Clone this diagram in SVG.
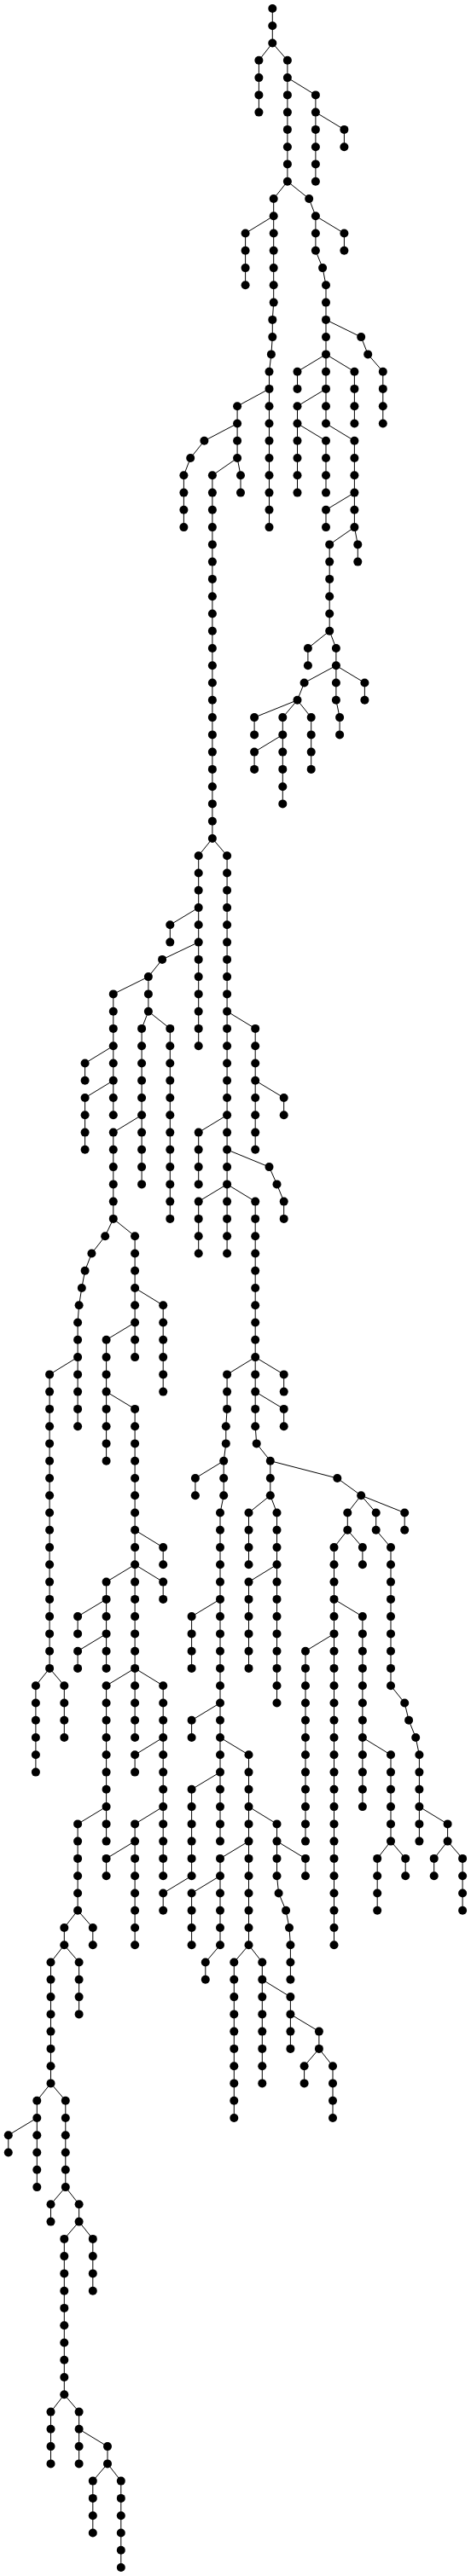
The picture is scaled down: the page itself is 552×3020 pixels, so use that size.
<svg xmlns="http://www.w3.org/2000/svg" width="552" height="3020" viewBox="0 0 552 3020">
<style>
.e path{fill:none;stroke:#000;stroke-width:1}
.n circle{fill:#000}
</style>
<rect width="552" height="3020" fill="#fff"/>
<g class="e" id="connectors">
<path d="M319.3 10V50.5"/>
<path d="M319.3 50.5L303.4 70.8V131.6"/>
<path d="M319.3 50.5L336.9 70.8V212.7"/>
<path d="M336.9 91.1L369.9 111.4V212.7"/>
<path d="M369.9 131.6L403.4 151.9V172.2"/>
<path d="M336.9 212.7L320.7 233V354.6L319.3 374.9V395.1L317.9 415.4L315.5 435.7V618.1"/>
<path d="M320.7 253.2L287.6 273.5V334.3"/>
<path d="M315.5 455.9L278.1 476.2V537"/>
<path d="M278.1 496.5L239.4 516.8L223.2 537L215.4 557.3V618.1"/>
<path d="M278.1 537L248.9 557.3V983"/>
<path d="M278.1 537L282 557.3V577.6"/>
<path d="M248.9 983L232.7 1003.2V1226.2"/>
<path d="M248.9 983L266.1 1003.2V1469.5"/>
<path d="M232.7 1064.1L199.3 1084.3V1104.6"/>
<path d="M232.7 1104.6L190.1 1124.9L173.9 1145.1V1185.7"/>
<path d="M173.9 1145.1L132.8 1165.4V1307.3"/>
<path d="M132.8 1226.2L99.6 1246.5V1266.8"/>
<path d="M132.8 1266.8L99.6 1287V1347.8"/>
<path d="M173.9 1185.7L166.1 1205.9V1388.4"/>
<path d="M173.9 1185.7L199.3 1205.9V1428.9"/>
<path d="M166.1 1307.3L132.8 1327.6V1428.9"/>
<path d="M132.8 1428.9L123.2 1449.2L107.4 1469.5L99.6 1489.7L95.8 1510L92.6 1530.3L91.1 1550.5V1672.2"/>
<path d="M132.8 1428.9L158.1 1449.2V1591.1"/>
<path d="M91.1 1591.1L58.1 1611.4V1955.9"/>
<path d="M58.1 1955.9L41.9 1976.2V2077.6"/>
<path d="M58.1 1955.9L75.3 1976.2V2037"/>
<path d="M158.1 1510L191.2 1530.3V1631.6"/>
<path d="M158.1 1550.5L124.6 1570.8V1712.7"/>
<path d="M124.6 1631.6L158.1 1651.9V2037"/>
<path d="M158.1 1793.8L191.2 1814.1V1834.3"/>
<path d="M158.1 1834.3L124.6 1854.6V1955.9"/>
<path d="M158.1 1834.3L191.2 1854.6V1874.9"/>
<path d="M124.6 1874.9L91.1 1895.1V1915.4"/>
<path d="M124.6 1915.4L91.1 1935.7V1955.9"/>
<path d="M158.1 1955.9L124.6 1976.2V2158.6"/>
<path d="M158.1 1955.9L191.2 1976.2V2199.2"/>
<path d="M124.6 2118.1L91.1 2138.4V2239.7"/>
<path d="M91.1 2239.7L75.3 2260V2280.3"/>
<path d="M91.1 2239.7L108.8 2260V2280.3"/>
<path d="M75.3 2280.3L59.5 2300.5V2442.4"/>
<path d="M75.3 2280.3L92.6 2300.5V2361.4"/>
<path d="M59.5 2442.4L43.3 2462.7V2564.1"/>
<path d="M43.3 2483L9.8 2503.2V2523.5"/>
<path d="M59.5 2442.4L76.8 2462.7V2564.1"/>
<path d="M76.8 2564.1L59.5 2584.3V2604.6"/>
<path d="M76.8 2564.1L92.6 2584.3V2604.6"/>
<path d="M92.6 2604.6L75.3 2624.9V2807.3"/>
<path d="M92.6 2604.6L108.8 2624.9V2685.7"/>
<path d="M75.3 2807.3L59.5 2827.6V2888.4"/>
<path d="M75.3 2807.3L92.6 2827.6V2888.4"/>
<path d="M92.6 2847.8L126 2868.1V2888.4"/>
<path d="M126 2888.4L108.8 2908.6V2969.5"/>
<path d="M126 2888.4L141.8 2908.6V3010"/>
<path d="M191.2 2037L158.1 2057.3V2077.6"/>
<path d="M191.2 2118.1L158.1 2138.4V2280.3"/>
<path d="M158.1 2158.6L124.6 2178.9V2199.2"/>
<path d="M336.9 212.7L362.2 233L369.9 253.2V293.8L378.1 314.1L382 334.3V496.5"/>
<path d="M369.9 253.2L403.4 273.5V293.8"/>
<path d="M382 374.9L423.2 395.1L431.2 415.4L448.8 435.7V496.5"/>
<path d="M382 415.4L348.5 435.7V455.9"/>
<path d="M382 415.4L415.4 435.7V496.5"/>
<path d="M382 455.9L348.5 476.2V577.6"/>
<path d="M348.5 496.5L382 516.8V577.6"/>
<path d="M382 496.5L415.4 516.8V618.1"/>
<path d="M415.4 577.6L382 597.8V618.1"/>
<path d="M415.4 618.1L386.2 638.4V739.7"/>
<path d="M415.4 618.1L419.3 638.4V658.6"/>
<path d="M386.2 739.7L360.9 760V780.3"/>
<path d="M386.2 739.7L393.9 760V780.3"/>
<path d="M393.9 780.3L356.6 800.5L348.5 820.8"/>
<path d="M393.9 780.3V820.8L398.1 841.1V861.4"/>
<path d="M393.9 780.3L427.4 800.5V820.8"/>
<path d="M348.5 820.8L298.1 841.1V861.4"/>
<path d="M348.5 820.8L331.3 841.1V942.4"/>
<path d="M348.5 820.8L364.7 841.1V901.9"/>
<path d="M331.3 861.4L298.1 881.6V901.9"/>
<path d="M266.1 1185.7L299.2 1205.9V1347.8"/>
<path d="M299.2 1266.8L332.7 1287V1307.3"/>
<path d="M266.1 1307.3L232.7 1327.6V1388.4"/>
<path d="M266.1 1347.8L315.5 1368.1L324.5 1388.4L332.7 1408.6V1428.9"/>
<path d="M266.1 1388.4L232.7 1408.6V1469.5"/>
<path d="M266.1 1388.4L299.2 1408.6V1672.2L300.7 1692.4L316.8 1712.7V1753.2"/>
<path d="M299.2 1591.1L266.1 1611.4V1651.9L264.8 1672.2V1692.4L262.2 1712.7"/>
<path d="M299.2 1591.1L332.7 1611.4V1631.6"/>
<path d="M299.2 1631.6L332.7 1651.9V1672.2"/>
<path d="M262.2 1712.7L228.9 1733V1753.2"/>
<path d="M262.2 1712.7V1753.2L258 1773.5V2158.6"/>
<path d="M258 1874.9L224.6 1895.1V1955.9"/>
<path d="M258 1996.5L224.6 2016.8V2037"/>
<path d="M258 2037L291.5 2057.3V2280.3"/>
<path d="M258 2077.6L224.6 2097.8V2199.2"/>
<path d="M224.6 2199.2L191.2 2219.5V2239.7"/>
<path d="M291.5 2118.1L324.5 2138.4V2199.2L326.6 2219.5L335.1 2239.7L339 2260L340.4 2280.3V2320.8"/>
<path d="M324.5 2158.6L358 2178.9V2199.2"/>
<path d="M291.5 2158.6L258 2178.9V2280.3"/>
<path d="M258 2199.2L224.6 2219.5V2280.3"/>
<path d="M258 2280.3L240.8 2300.5V2320.8"/>
<path d="M291.5 2280.3L274.3 2300.5V2483"/>
<path d="M291.5 2280.3L307.3 2300.5V2442.4"/>
<path d="M307.3 2320.8L340.4 2341.1V2401.9"/>
<path d="M340.4 2361.4L373.9 2381.6V2401.9"/>
<path d="M373.9 2401.9L356.6 2422.2V2442.4"/>
<path d="M373.9 2401.9L390 2422.2V2483"/>
<path d="M316.8 1712.7L395.3 1733L423.2 1753.2"/>
<path d="M423.2 1753.2L407.3 1773.5V1793.8"/>
<path d="M423.2 1753.2L440.7 1773.5V1793.8L458 1814.1V1976.2L474.2 1996.5L479.1 2016.8L487.2 2037L491.4 2057.3V2158.6"/>
<path d="M423.2 1753.2L474.2 1773.5V1793.8"/>
<path d="M407.3 1793.8L391.5 1814.1V2280.3"/>
<path d="M407.3 1793.8L424.9 1814.1V1834.3"/>
<path d="M391.5 1874.9L424.9 1895.1V2118.1"/>
<path d="M391.5 1915.4L358 1935.7V2158.6"/>
<path d="M424.9 2037L458 2057.3V2158.6"/>
<path d="M458 2158.6L442.2 2178.9V2239.7"/>
<path d="M458 2158.6L475.2 2178.9V2199.2"/>
<path d="M491.4 2118.1L524.6 2138.4V2158.6"/>
<path d="M524.6 2158.6L508.7 2178.9V2199.2"/>
<path d="M524.6 2158.6L542.1 2178.9V2239.7"/>
<path d="M316.8 1753.2L291.5 1773.5V1834.3"/>
<path d="M316.8 1753.2L324.5 1773.5V1996.5"/>
<path d="M324.5 1834.3L291.5 1854.6V1955.9"/>
</g>
<g class="n" id="nodes">
<g id="n0_302"><circle cx="319.3" cy="10" r="5"/></g>
<g id="n1_302"><circle cx="319.3" cy="30.3" r="5"/></g>
<g id="n2_302"><circle cx="319.3" cy="50.5" r="5"/></g>
<g id="n3_287"><circle cx="303.4" cy="70.8" r="5"/></g>
<g id="n4_287"><circle cx="303.4" cy="91.1" r="5"/></g>
<g id="n5_287"><circle cx="303.4" cy="111.4" r="5"/></g>
<g id="n6_287"><circle cx="303.4" cy="131.6" r="5"/></g>
<g id="n3_319"><circle cx="336.9" cy="70.8" r="5"/></g>
<g id="n4_319"><circle cx="336.9" cy="91.1" r="5"/></g>
<g id="n5_319"><circle cx="336.9" cy="111.4" r="5"/></g>
<g id="n6_319"><circle cx="336.9" cy="131.6" r="5"/></g>
<g id="n7_319"><circle cx="336.9" cy="151.9" r="5"/></g>
<g id="n8_319"><circle cx="336.9" cy="172.2" r="5"/></g>
<g id="n9_319"><circle cx="336.9" cy="192.4" r="5"/></g>
<g id="n10_319"><circle cx="336.9" cy="212.7" r="5"/></g>
<g id="n5_350"><circle cx="369.9" cy="111.4" r="5"/></g>
<g id="n6_350"><circle cx="369.9" cy="131.6" r="5"/></g>
<g id="n7_350"><circle cx="369.9" cy="151.9" r="5"/></g>
<g id="n8_350"><circle cx="369.9" cy="172.2" r="5"/></g>
<g id="n9_350"><circle cx="369.9" cy="192.4" r="5"/></g>
<g id="n10_350"><circle cx="369.9" cy="212.7" r="5"/></g>
<g id="n7_382"><circle cx="403.4" cy="151.9" r="5"/></g>
<g id="n8_382"><circle cx="403.4" cy="172.2" r="5"/></g>
<g id="n11_304"><circle cx="320.7" cy="233" r="5"/></g>
<g id="n12_304"><circle cx="320.7" cy="253.2" r="5"/></g>
<g id="n13_304"><circle cx="320.7" cy="273.5" r="5"/></g>
<g id="n14_304"><circle cx="320.7" cy="293.8" r="5"/></g>
<g id="n15_304"><circle cx="320.7" cy="314.1" r="5"/></g>
<g id="n16_304"><circle cx="320.7" cy="334.3" r="5"/></g>
<g id="n17_304"><circle cx="320.7" cy="354.6" r="5"/></g>
<g id="n18_302"><circle cx="319.3" cy="374.9" r="5"/></g>
<g id="n19_302"><circle cx="319.3" cy="395.1" r="5"/></g>
<g id="n20_301"><circle cx="317.9" cy="415.4" r="5"/></g>
<g id="n21_299"><circle cx="315.5" cy="435.7" r="5"/></g>
<g id="n22_299"><circle cx="315.5" cy="455.9" r="5"/></g>
<g id="n23_299"><circle cx="315.5" cy="476.2" r="5"/></g>
<g id="n24_299"><circle cx="315.5" cy="496.5" r="5"/></g>
<g id="n25_299"><circle cx="315.5" cy="516.8" r="5"/></g>
<g id="n26_299"><circle cx="315.5" cy="537" r="5"/></g>
<g id="n27_299"><circle cx="315.5" cy="557.3" r="5"/></g>
<g id="n28_299"><circle cx="315.5" cy="577.6" r="5"/></g>
<g id="n29_299"><circle cx="315.5" cy="597.8" r="5"/></g>
<g id="n30_299"><circle cx="315.5" cy="618.1" r="5"/></g>
<g id="n13_272"><circle cx="287.6" cy="273.5" r="5"/></g>
<g id="n14_272"><circle cx="287.6" cy="293.8" r="5"/></g>
<g id="n15_272"><circle cx="287.6" cy="314.1" r="5"/></g>
<g id="n16_272"><circle cx="287.6" cy="334.3" r="5"/></g>
<g id="n23_263"><circle cx="278.1" cy="476.2" r="5"/></g>
<g id="n24_263"><circle cx="278.1" cy="496.5" r="5"/></g>
<g id="n25_263"><circle cx="278.1" cy="516.8" r="5"/></g>
<g id="n26_263"><circle cx="278.1" cy="537" r="5"/></g>
<g id="n25_227"><circle cx="239.4" cy="516.8" r="5"/></g>
<g id="n26_211"><circle cx="223.2" cy="537" r="5"/></g>
<g id="n27_204"><circle cx="215.4" cy="557.3" r="5"/></g>
<g id="n28_204"><circle cx="215.4" cy="577.6" r="5"/></g>
<g id="n29_204"><circle cx="215.4" cy="597.8" r="5"/></g>
<g id="n30_204"><circle cx="215.4" cy="618.1" r="5"/></g>
<g id="n27_236"><circle cx="248.9" cy="557.3" r="5"/></g>
<g id="n28_236"><circle cx="248.9" cy="577.6" r="5"/></g>
<g id="n29_236"><circle cx="248.9" cy="597.8" r="5"/></g>
<g id="n30_236"><circle cx="248.9" cy="618.1" r="5"/></g>
<g id="n31_236"><circle cx="248.9" cy="638.4" r="5"/></g>
<g id="n32_236"><circle cx="248.9" cy="658.6" r="5"/></g>
<g id="n33_236"><circle cx="248.9" cy="678.9" r="5"/></g>
<g id="n34_236"><circle cx="248.9" cy="699.2" r="5"/></g>
<g id="n35_236"><circle cx="248.9" cy="719.5" r="5"/></g>
<g id="n36_236"><circle cx="248.9" cy="739.7" r="5"/></g>
<g id="n37_236"><circle cx="248.9" cy="760" r="5"/></g>
<g id="n38_236"><circle cx="248.9" cy="780.3" r="5"/></g>
<g id="n39_236"><circle cx="248.9" cy="800.5" r="5"/></g>
<g id="n40_236"><circle cx="248.9" cy="820.8" r="5"/></g>
<g id="n41_236"><circle cx="248.9" cy="841.1" r="5"/></g>
<g id="n42_236"><circle cx="248.9" cy="861.4" r="5"/></g>
<g id="n43_236"><circle cx="248.9" cy="881.6" r="5"/></g>
<g id="n44_236"><circle cx="248.9" cy="901.9" r="5"/></g>
<g id="n45_236"><circle cx="248.9" cy="922.2" r="5"/></g>
<g id="n46_236"><circle cx="248.9" cy="942.4" r="5"/></g>
<g id="n47_236"><circle cx="248.9" cy="962.7" r="5"/></g>
<g id="n48_236"><circle cx="248.9" cy="983" r="5"/></g>
<g id="n27_267"><circle cx="282" cy="557.3" r="5"/></g>
<g id="n28_267"><circle cx="282" cy="577.6" r="5"/></g>
<g id="n49_220"><circle cx="232.7" cy="1003.2" r="5"/></g>
<g id="n50_220"><circle cx="232.7" cy="1023.5" r="5"/></g>
<g id="n51_220"><circle cx="232.7" cy="1043.8" r="5"/></g>
<g id="n52_220"><circle cx="232.7" cy="1064.1" r="5"/></g>
<g id="n53_220"><circle cx="232.7" cy="1084.3" r="5"/></g>
<g id="n54_220"><circle cx="232.7" cy="1104.6" r="5"/></g>
<g id="n55_220"><circle cx="232.7" cy="1124.9" r="5"/></g>
<g id="n56_220"><circle cx="232.7" cy="1145.1" r="5"/></g>
<g id="n57_220"><circle cx="232.7" cy="1165.4" r="5"/></g>
<g id="n58_220"><circle cx="232.7" cy="1185.7" r="5"/></g>
<g id="n59_220"><circle cx="232.7" cy="1205.9" r="5"/></g>
<g id="n60_220"><circle cx="232.7" cy="1226.2" r="5"/></g>
<g id="n49_252"><circle cx="266.1" cy="1003.2" r="5"/></g>
<g id="n50_252"><circle cx="266.1" cy="1023.5" r="5"/></g>
<g id="n51_252"><circle cx="266.1" cy="1043.8" r="5"/></g>
<g id="n52_252"><circle cx="266.1" cy="1064.1" r="5"/></g>
<g id="n53_252"><circle cx="266.1" cy="1084.3" r="5"/></g>
<g id="n54_252"><circle cx="266.1" cy="1104.6" r="5"/></g>
<g id="n55_252"><circle cx="266.1" cy="1124.9" r="5"/></g>
<g id="n56_252"><circle cx="266.1" cy="1145.1" r="5"/></g>
<g id="n57_252"><circle cx="266.1" cy="1165.4" r="5"/></g>
<g id="n58_252"><circle cx="266.1" cy="1185.7" r="5"/></g>
<g id="n59_252"><circle cx="266.1" cy="1205.9" r="5"/></g>
<g id="n60_252"><circle cx="266.1" cy="1226.2" r="5"/></g>
<g id="n61_252"><circle cx="266.1" cy="1246.5" r="5"/></g>
<g id="n62_252"><circle cx="266.1" cy="1266.8" r="5"/></g>
<g id="n63_252"><circle cx="266.1" cy="1287" r="5"/></g>
<g id="n64_252"><circle cx="266.1" cy="1307.3" r="5"/></g>
<g id="n65_252"><circle cx="266.1" cy="1327.6" r="5"/></g>
<g id="n66_252"><circle cx="266.1" cy="1347.8" r="5"/></g>
<g id="n67_252"><circle cx="266.1" cy="1368.1" r="5"/></g>
<g id="n68_252"><circle cx="266.1" cy="1388.4" r="5"/></g>
<g id="n69_252"><circle cx="266.1" cy="1408.6" r="5"/></g>
<g id="n70_252"><circle cx="266.1" cy="1428.9" r="5"/></g>
<g id="n71_252"><circle cx="266.1" cy="1449.2" r="5"/></g>
<g id="n72_252"><circle cx="266.1" cy="1469.5" r="5"/></g>
<g id="n53_189"><circle cx="199.3" cy="1084.3" r="5"/></g>
<g id="n54_189"><circle cx="199.3" cy="1104.6" r="5"/></g>
<g id="n55_180"><circle cx="190.1" cy="1124.9" r="5"/></g>
<g id="n56_165"><circle cx="173.9" cy="1145.1" r="5"/></g>
<g id="n57_165"><circle cx="173.9" cy="1165.4" r="5"/></g>
<g id="n58_165"><circle cx="173.9" cy="1185.7" r="5"/></g>
<g id="n57_126"><circle cx="132.8" cy="1165.4" r="5"/></g>
<g id="n58_126"><circle cx="132.8" cy="1185.7" r="5"/></g>
<g id="n59_126"><circle cx="132.8" cy="1205.9" r="5"/></g>
<g id="n60_126"><circle cx="132.8" cy="1226.2" r="5"/></g>
<g id="n61_126"><circle cx="132.8" cy="1246.5" r="5"/></g>
<g id="n62_126"><circle cx="132.8" cy="1266.8" r="5"/></g>
<g id="n63_126"><circle cx="132.8" cy="1287" r="5"/></g>
<g id="n64_126"><circle cx="132.8" cy="1307.3" r="5"/></g>
<g id="n61_94"><circle cx="99.6" cy="1246.5" r="5"/></g>
<g id="n62_94"><circle cx="99.6" cy="1266.8" r="5"/></g>
<g id="n63_94"><circle cx="99.6" cy="1287" r="5"/></g>
<g id="n64_94"><circle cx="99.6" cy="1307.3" r="5"/></g>
<g id="n65_94"><circle cx="99.6" cy="1327.6" r="5"/></g>
<g id="n66_94"><circle cx="99.6" cy="1347.8" r="5"/></g>
<g id="n59_157"><circle cx="166.1" cy="1205.9" r="5"/></g>
<g id="n60_157"><circle cx="166.1" cy="1226.2" r="5"/></g>
<g id="n61_157"><circle cx="166.1" cy="1246.5" r="5"/></g>
<g id="n62_157"><circle cx="166.1" cy="1266.8" r="5"/></g>
<g id="n63_157"><circle cx="166.1" cy="1287" r="5"/></g>
<g id="n64_157"><circle cx="166.1" cy="1307.3" r="5"/></g>
<g id="n65_157"><circle cx="166.1" cy="1327.6" r="5"/></g>
<g id="n66_157"><circle cx="166.1" cy="1347.8" r="5"/></g>
<g id="n67_157"><circle cx="166.1" cy="1368.1" r="5"/></g>
<g id="n68_157"><circle cx="166.1" cy="1388.4" r="5"/></g>
<g id="n59_189"><circle cx="199.3" cy="1205.9" r="5"/></g>
<g id="n60_189"><circle cx="199.3" cy="1226.2" r="5"/></g>
<g id="n61_189"><circle cx="199.3" cy="1246.5" r="5"/></g>
<g id="n62_189"><circle cx="199.3" cy="1266.8" r="5"/></g>
<g id="n63_189"><circle cx="199.3" cy="1287" r="5"/></g>
<g id="n64_189"><circle cx="199.3" cy="1307.3" r="5"/></g>
<g id="n65_189"><circle cx="199.3" cy="1327.6" r="5"/></g>
<g id="n66_189"><circle cx="199.3" cy="1347.8" r="5"/></g>
<g id="n67_189"><circle cx="199.3" cy="1368.1" r="5"/></g>
<g id="n68_189"><circle cx="199.3" cy="1388.4" r="5"/></g>
<g id="n69_189"><circle cx="199.3" cy="1408.6" r="5"/></g>
<g id="n70_189"><circle cx="199.3" cy="1428.9" r="5"/></g>
<g id="n65_126"><circle cx="132.8" cy="1327.6" r="5"/></g>
<g id="n66_126"><circle cx="132.8" cy="1347.8" r="5"/></g>
<g id="n67_126"><circle cx="132.8" cy="1368.1" r="5"/></g>
<g id="n68_126"><circle cx="132.8" cy="1388.4" r="5"/></g>
<g id="n69_126"><circle cx="132.8" cy="1408.6" r="5"/></g>
<g id="n70_126"><circle cx="132.8" cy="1428.9" r="5"/></g>
<g id="n71_117"><circle cx="123.2" cy="1449.2" r="5"/></g>
<g id="n72_102"><circle cx="107.4" cy="1469.5" r="5"/></g>
<g id="n73_94"><circle cx="99.6" cy="1489.7" r="5"/></g>
<g id="n74_91"><circle cx="95.8" cy="1510" r="5"/></g>
<g id="n75_88"><circle cx="92.6" cy="1530.3" r="5"/></g>
<g id="n76_86"><circle cx="91.1" cy="1550.5" r="5"/></g>
<g id="n77_86"><circle cx="91.1" cy="1570.8" r="5"/></g>
<g id="n78_86"><circle cx="91.1" cy="1591.1" r="5"/></g>
<g id="n79_86"><circle cx="91.1" cy="1611.4" r="5"/></g>
<g id="n80_86"><circle cx="91.1" cy="1631.6" r="5"/></g>
<g id="n81_86"><circle cx="91.1" cy="1651.9" r="5"/></g>
<g id="n82_86"><circle cx="91.1" cy="1672.2" r="5"/></g>
<g id="n71_150"><circle cx="158.1" cy="1449.2" r="5"/></g>
<g id="n72_150"><circle cx="158.1" cy="1469.5" r="5"/></g>
<g id="n73_150"><circle cx="158.1" cy="1489.7" r="5"/></g>
<g id="n74_150"><circle cx="158.1" cy="1510" r="5"/></g>
<g id="n75_150"><circle cx="158.1" cy="1530.3" r="5"/></g>
<g id="n76_150"><circle cx="158.1" cy="1550.5" r="5"/></g>
<g id="n77_150"><circle cx="158.1" cy="1570.8" r="5"/></g>
<g id="n78_150"><circle cx="158.1" cy="1591.1" r="5"/></g>
<g id="n79_55"><circle cx="58.1" cy="1611.4" r="5"/></g>
<g id="n80_55"><circle cx="58.1" cy="1631.6" r="5"/></g>
<g id="n81_55"><circle cx="58.1" cy="1651.9" r="5"/></g>
<g id="n82_55"><circle cx="58.1" cy="1672.2" r="5"/></g>
<g id="n83_55"><circle cx="58.1" cy="1692.4" r="5"/></g>
<g id="n84_55"><circle cx="58.1" cy="1712.7" r="5"/></g>
<g id="n85_55"><circle cx="58.1" cy="1733" r="5"/></g>
<g id="n86_55"><circle cx="58.1" cy="1753.2" r="5"/></g>
<g id="n87_55"><circle cx="58.1" cy="1773.5" r="5"/></g>
<g id="n88_55"><circle cx="58.1" cy="1793.8" r="5"/></g>
<g id="n89_55"><circle cx="58.1" cy="1814.1" r="5"/></g>
<g id="n90_55"><circle cx="58.1" cy="1834.3" r="5"/></g>
<g id="n91_55"><circle cx="58.1" cy="1854.6" r="5"/></g>
<g id="n92_55"><circle cx="58.1" cy="1874.9" r="5"/></g>
<g id="n93_55"><circle cx="58.1" cy="1895.1" r="5"/></g>
<g id="n94_55"><circle cx="58.1" cy="1915.4" r="5"/></g>
<g id="n95_55"><circle cx="58.1" cy="1935.7" r="5"/></g>
<g id="n96_55"><circle cx="58.1" cy="1955.9" r="5"/></g>
<g id="n97_40"><circle cx="41.9" cy="1976.2" r="5"/></g>
<g id="n98_40"><circle cx="41.9" cy="1996.5" r="5"/></g>
<g id="n99_40"><circle cx="41.9" cy="2016.8" r="5"/></g>
<g id="n100_40"><circle cx="41.9" cy="2037" r="5"/></g>
<g id="n101_40"><circle cx="41.9" cy="2057.3" r="5"/></g>
<g id="n102_40"><circle cx="41.9" cy="2077.6" r="5"/></g>
<g id="n97_71"><circle cx="75.3" cy="1976.2" r="5"/></g>
<g id="n98_71"><circle cx="75.3" cy="1996.5" r="5"/></g>
<g id="n99_71"><circle cx="75.3" cy="2016.8" r="5"/></g>
<g id="n100_71"><circle cx="75.3" cy="2037" r="5"/></g>
<g id="n75_181"><circle cx="191.2" cy="1530.3" r="5"/></g>
<g id="n76_181"><circle cx="191.2" cy="1550.5" r="5"/></g>
<g id="n77_181"><circle cx="191.2" cy="1570.8" r="5"/></g>
<g id="n78_181"><circle cx="191.2" cy="1591.1" r="5"/></g>
<g id="n79_181"><circle cx="191.2" cy="1611.4" r="5"/></g>
<g id="n80_181"><circle cx="191.2" cy="1631.6" r="5"/></g>
<g id="n77_118"><circle cx="124.6" cy="1570.8" r="5"/></g>
<g id="n78_118"><circle cx="124.6" cy="1591.1" r="5"/></g>
<g id="n79_118"><circle cx="124.6" cy="1611.4" r="5"/></g>
<g id="n80_118"><circle cx="124.6" cy="1631.6" r="5"/></g>
<g id="n81_118"><circle cx="124.6" cy="1651.9" r="5"/></g>
<g id="n82_118"><circle cx="124.6" cy="1672.2" r="5"/></g>
<g id="n83_118"><circle cx="124.6" cy="1692.4" r="5"/></g>
<g id="n84_118"><circle cx="124.6" cy="1712.7" r="5"/></g>
<g id="n81_150"><circle cx="158.1" cy="1651.9" r="5"/></g>
<g id="n82_150"><circle cx="158.1" cy="1672.2" r="5"/></g>
<g id="n83_150"><circle cx="158.1" cy="1692.4" r="5"/></g>
<g id="n84_150"><circle cx="158.1" cy="1712.7" r="5"/></g>
<g id="n85_150"><circle cx="158.1" cy="1733" r="5"/></g>
<g id="n86_150"><circle cx="158.1" cy="1753.2" r="5"/></g>
<g id="n87_150"><circle cx="158.1" cy="1773.5" r="5"/></g>
<g id="n88_150"><circle cx="158.1" cy="1793.8" r="5"/></g>
<g id="n89_150"><circle cx="158.1" cy="1814.1" r="5"/></g>
<g id="n90_150"><circle cx="158.1" cy="1834.3" r="5"/></g>
<g id="n91_150"><circle cx="158.1" cy="1854.6" r="5"/></g>
<g id="n92_150"><circle cx="158.1" cy="1874.9" r="5"/></g>
<g id="n93_150"><circle cx="158.1" cy="1895.1" r="5"/></g>
<g id="n94_150"><circle cx="158.1" cy="1915.4" r="5"/></g>
<g id="n95_150"><circle cx="158.1" cy="1935.7" r="5"/></g>
<g id="n96_150"><circle cx="158.1" cy="1955.9" r="5"/></g>
<g id="n97_150"><circle cx="158.1" cy="1976.2" r="5"/></g>
<g id="n98_150"><circle cx="158.1" cy="1996.5" r="5"/></g>
<g id="n99_150"><circle cx="158.1" cy="2016.8" r="5"/></g>
<g id="n100_150"><circle cx="158.1" cy="2037" r="5"/></g>
<g id="n89_181"><circle cx="191.2" cy="1814.1" r="5"/></g>
<g id="n90_181"><circle cx="191.2" cy="1834.3" r="5"/></g>
<g id="n91_118"><circle cx="124.6" cy="1854.6" r="5"/></g>
<g id="n92_118"><circle cx="124.6" cy="1874.9" r="5"/></g>
<g id="n93_118"><circle cx="124.6" cy="1895.1" r="5"/></g>
<g id="n94_118"><circle cx="124.6" cy="1915.4" r="5"/></g>
<g id="n95_118"><circle cx="124.6" cy="1935.7" r="5"/></g>
<g id="n96_118"><circle cx="124.6" cy="1955.9" r="5"/></g>
<g id="n91_181"><circle cx="191.2" cy="1854.6" r="5"/></g>
<g id="n92_181"><circle cx="191.2" cy="1874.9" r="5"/></g>
<g id="n93_86"><circle cx="91.1" cy="1895.1" r="5"/></g>
<g id="n94_86"><circle cx="91.1" cy="1915.4" r="5"/></g>
<g id="n95_86"><circle cx="91.1" cy="1935.7" r="5"/></g>
<g id="n96_86"><circle cx="91.1" cy="1955.9" r="5"/></g>
<g id="n97_118"><circle cx="124.6" cy="1976.2" r="5"/></g>
<g id="n98_118"><circle cx="124.6" cy="1996.5" r="5"/></g>
<g id="n99_118"><circle cx="124.6" cy="2016.8" r="5"/></g>
<g id="n100_118"><circle cx="124.6" cy="2037" r="5"/></g>
<g id="n101_118"><circle cx="124.6" cy="2057.3" r="5"/></g>
<g id="n102_118"><circle cx="124.6" cy="2077.6" r="5"/></g>
<g id="n103_118"><circle cx="124.6" cy="2097.8" r="5"/></g>
<g id="n104_118"><circle cx="124.6" cy="2118.1" r="5"/></g>
<g id="n105_118"><circle cx="124.6" cy="2138.4" r="5"/></g>
<g id="n106_118"><circle cx="124.6" cy="2158.6" r="5"/></g>
<g id="n97_181"><circle cx="191.2" cy="1976.2" r="5"/></g>
<g id="n98_181"><circle cx="191.2" cy="1996.5" r="5"/></g>
<g id="n99_181"><circle cx="191.2" cy="2016.8" r="5"/></g>
<g id="n100_181"><circle cx="191.2" cy="2037" r="5"/></g>
<g id="n101_181"><circle cx="191.2" cy="2057.3" r="5"/></g>
<g id="n102_181"><circle cx="191.2" cy="2077.6" r="5"/></g>
<g id="n103_181"><circle cx="191.2" cy="2097.8" r="5"/></g>
<g id="n104_181"><circle cx="191.2" cy="2118.1" r="5"/></g>
<g id="n105_181"><circle cx="191.2" cy="2138.4" r="5"/></g>
<g id="n106_181"><circle cx="191.2" cy="2158.6" r="5"/></g>
<g id="n107_181"><circle cx="191.2" cy="2178.9" r="5"/></g>
<g id="n108_181"><circle cx="191.2" cy="2199.2" r="5"/></g>
<g id="n105_86"><circle cx="91.1" cy="2138.4" r="5"/></g>
<g id="n106_86"><circle cx="91.1" cy="2158.6" r="5"/></g>
<g id="n107_86"><circle cx="91.1" cy="2178.9" r="5"/></g>
<g id="n108_86"><circle cx="91.1" cy="2199.2" r="5"/></g>
<g id="n109_86"><circle cx="91.1" cy="2219.5" r="5"/></g>
<g id="n110_86"><circle cx="91.1" cy="2239.7" r="5"/></g>
<g id="n111_71"><circle cx="75.3" cy="2260" r="5"/></g>
<g id="n112_71"><circle cx="75.3" cy="2280.3" r="5"/></g>
<g id="n111_103"><circle cx="108.8" cy="2260" r="5"/></g>
<g id="n112_103"><circle cx="108.8" cy="2280.3" r="5"/></g>
<g id="n113_56"><circle cx="59.5" cy="2300.5" r="5"/></g>
<g id="n114_56"><circle cx="59.5" cy="2320.8" r="5"/></g>
<g id="n115_56"><circle cx="59.5" cy="2341.1" r="5"/></g>
<g id="n116_56"><circle cx="59.5" cy="2361.4" r="5"/></g>
<g id="n117_56"><circle cx="59.5" cy="2381.6" r="5"/></g>
<g id="n118_56"><circle cx="59.5" cy="2401.9" r="5"/></g>
<g id="n119_56"><circle cx="59.5" cy="2422.2" r="5"/></g>
<g id="n120_56"><circle cx="59.5" cy="2442.4" r="5"/></g>
<g id="n113_88"><circle cx="92.6" cy="2300.5" r="5"/></g>
<g id="n114_88"><circle cx="92.6" cy="2320.8" r="5"/></g>
<g id="n115_88"><circle cx="92.6" cy="2341.1" r="5"/></g>
<g id="n116_88"><circle cx="92.6" cy="2361.4" r="5"/></g>
<g id="n121_41"><circle cx="43.3" cy="2462.7" r="5"/></g>
<g id="n122_41"><circle cx="43.3" cy="2483" r="5"/></g>
<g id="n123_41"><circle cx="43.3" cy="2503.2" r="5"/></g>
<g id="n124_41"><circle cx="43.3" cy="2523.5" r="5"/></g>
<g id="n125_41"><circle cx="43.3" cy="2543.8" r="5"/></g>
<g id="n126_41"><circle cx="43.3" cy="2564.1" r="5"/></g>
<g id="n123_9"><circle cx="9.8" cy="2503.2" r="5"/></g>
<g id="n124_9"><circle cx="9.8" cy="2523.5" r="5"/></g>
<g id="n121_73"><circle cx="76.8" cy="2462.7" r="5"/></g>
<g id="n122_73"><circle cx="76.8" cy="2483" r="5"/></g>
<g id="n123_73"><circle cx="76.8" cy="2503.2" r="5"/></g>
<g id="n124_73"><circle cx="76.8" cy="2523.5" r="5"/></g>
<g id="n125_73"><circle cx="76.8" cy="2543.8" r="5"/></g>
<g id="n126_73"><circle cx="76.8" cy="2564.1" r="5"/></g>
<g id="n127_56"><circle cx="59.5" cy="2584.3" r="5"/></g>
<g id="n128_56"><circle cx="59.5" cy="2604.6" r="5"/></g>
<g id="n127_88"><circle cx="92.6" cy="2584.3" r="5"/></g>
<g id="n128_88"><circle cx="92.6" cy="2604.6" r="5"/></g>
<g id="n129_71"><circle cx="75.3" cy="2624.9" r="5"/></g>
<g id="n130_71"><circle cx="75.3" cy="2645.1" r="5"/></g>
<g id="n131_71"><circle cx="75.3" cy="2665.4" r="5"/></g>
<g id="n132_71"><circle cx="75.3" cy="2685.7" r="5"/></g>
<g id="n133_71"><circle cx="75.3" cy="2705.9" r="5"/></g>
<g id="n134_71"><circle cx="75.3" cy="2726.2" r="5"/></g>
<g id="n135_71"><circle cx="75.3" cy="2746.5" r="5"/></g>
<g id="n136_71"><circle cx="75.3" cy="2766.8" r="5"/></g>
<g id="n137_71"><circle cx="75.3" cy="2787" r="5"/></g>
<g id="n138_71"><circle cx="75.3" cy="2807.3" r="5"/></g>
<g id="n129_103"><circle cx="108.8" cy="2624.9" r="5"/></g>
<g id="n130_103"><circle cx="108.8" cy="2645.1" r="5"/></g>
<g id="n131_103"><circle cx="108.8" cy="2665.4" r="5"/></g>
<g id="n132_103"><circle cx="108.8" cy="2685.7" r="5"/></g>
<g id="n139_56"><circle cx="59.5" cy="2827.6" r="5"/></g>
<g id="n140_56"><circle cx="59.5" cy="2847.8" r="5"/></g>
<g id="n141_56"><circle cx="59.5" cy="2868.1" r="5"/></g>
<g id="n142_56"><circle cx="59.5" cy="2888.4" r="5"/></g>
<g id="n139_88"><circle cx="92.6" cy="2827.6" r="5"/></g>
<g id="n140_88"><circle cx="92.6" cy="2847.8" r="5"/></g>
<g id="n141_88"><circle cx="92.6" cy="2868.1" r="5"/></g>
<g id="n142_88"><circle cx="92.6" cy="2888.4" r="5"/></g>
<g id="n141_119"><circle cx="126" cy="2868.1" r="5"/></g>
<g id="n142_119"><circle cx="126" cy="2888.4" r="5"/></g>
<g id="n143_103"><circle cx="108.8" cy="2908.6" r="5"/></g>
<g id="n144_103"><circle cx="108.8" cy="2928.9" r="5"/></g>
<g id="n145_103"><circle cx="108.8" cy="2949.2" r="5"/></g>
<g id="n146_103"><circle cx="108.8" cy="2969.5" r="5"/></g>
<g id="n143_134"><circle cx="141.8" cy="2908.6" r="5"/></g>
<g id="n144_134"><circle cx="141.8" cy="2928.9" r="5"/></g>
<g id="n145_134"><circle cx="141.8" cy="2949.2" r="5"/></g>
<g id="n146_134"><circle cx="141.8" cy="2969.5" r="5"/></g>
<g id="n147_134"><circle cx="141.8" cy="2989.7" r="5"/></g>
<g id="n148_134"><circle cx="141.8" cy="3010" r="5"/></g>
<g id="n101_150"><circle cx="158.1" cy="2057.3" r="5"/></g>
<g id="n102_150"><circle cx="158.1" cy="2077.6" r="5"/></g>
<g id="n105_150"><circle cx="158.1" cy="2138.4" r="5"/></g>
<g id="n106_150"><circle cx="158.1" cy="2158.6" r="5"/></g>
<g id="n107_150"><circle cx="158.1" cy="2178.9" r="5"/></g>
<g id="n108_150"><circle cx="158.1" cy="2199.2" r="5"/></g>
<g id="n109_150"><circle cx="158.1" cy="2219.5" r="5"/></g>
<g id="n110_150"><circle cx="158.1" cy="2239.7" r="5"/></g>
<g id="n111_150"><circle cx="158.1" cy="2260" r="5"/></g>
<g id="n112_150"><circle cx="158.1" cy="2280.3" r="5"/></g>
<g id="n107_118"><circle cx="124.6" cy="2178.9" r="5"/></g>
<g id="n108_118"><circle cx="124.6" cy="2199.2" r="5"/></g>
<g id="n11_343"><circle cx="362.2" cy="233" r="5"/></g>
<g id="n12_350"><circle cx="369.9" cy="253.2" r="5"/></g>
<g id="n13_350"><circle cx="369.9" cy="273.5" r="5"/></g>
<g id="n14_350"><circle cx="369.9" cy="293.8" r="5"/></g>
<g id="n15_358"><circle cx="378.1" cy="314.1" r="5"/></g>
<g id="n16_362"><circle cx="382" cy="334.3" r="5"/></g>
<g id="n17_362"><circle cx="382" cy="354.6" r="5"/></g>
<g id="n18_362"><circle cx="382" cy="374.9" r="5"/></g>
<g id="n19_362"><circle cx="382" cy="395.1" r="5"/></g>
<g id="n20_362"><circle cx="382" cy="415.4" r="5"/></g>
<g id="n21_362"><circle cx="382" cy="435.7" r="5"/></g>
<g id="n22_362"><circle cx="382" cy="455.9" r="5"/></g>
<g id="n23_362"><circle cx="382" cy="476.2" r="5"/></g>
<g id="n24_362"><circle cx="382" cy="496.5" r="5"/></g>
<g id="n13_382"><circle cx="403.4" cy="273.5" r="5"/></g>
<g id="n14_382"><circle cx="403.4" cy="293.8" r="5"/></g>
<g id="n19_401"><circle cx="423.2" cy="395.1" r="5"/></g>
<g id="n20_408"><circle cx="431.2" cy="415.4" r="5"/></g>
<g id="n21_425"><circle cx="448.8" cy="435.7" r="5"/></g>
<g id="n22_425"><circle cx="448.8" cy="455.9" r="5"/></g>
<g id="n23_425"><circle cx="448.8" cy="476.2" r="5"/></g>
<g id="n24_425"><circle cx="448.8" cy="496.5" r="5"/></g>
<g id="n21_330"><circle cx="348.5" cy="435.7" r="5"/></g>
<g id="n22_330"><circle cx="348.5" cy="455.9" r="5"/></g>
<g id="n21_393"><circle cx="415.4" cy="435.7" r="5"/></g>
<g id="n22_393"><circle cx="415.4" cy="455.9" r="5"/></g>
<g id="n23_393"><circle cx="415.4" cy="476.2" r="5"/></g>
<g id="n24_393"><circle cx="415.4" cy="496.5" r="5"/></g>
<g id="n23_330"><circle cx="348.5" cy="476.2" r="5"/></g>
<g id="n24_330"><circle cx="348.5" cy="496.5" r="5"/></g>
<g id="n25_330"><circle cx="348.5" cy="516.8" r="5"/></g>
<g id="n26_330"><circle cx="348.5" cy="537" r="5"/></g>
<g id="n27_330"><circle cx="348.5" cy="557.3" r="5"/></g>
<g id="n28_330"><circle cx="348.5" cy="577.6" r="5"/></g>
<g id="n25_362"><circle cx="382" cy="516.8" r="5"/></g>
<g id="n26_362"><circle cx="382" cy="537" r="5"/></g>
<g id="n27_362"><circle cx="382" cy="557.3" r="5"/></g>
<g id="n28_362"><circle cx="382" cy="577.6" r="5"/></g>
<g id="n25_393"><circle cx="415.4" cy="516.8" r="5"/></g>
<g id="n26_393"><circle cx="415.4" cy="537" r="5"/></g>
<g id="n27_393"><circle cx="415.4" cy="557.3" r="5"/></g>
<g id="n28_393"><circle cx="415.4" cy="577.6" r="5"/></g>
<g id="n29_393"><circle cx="415.4" cy="597.8" r="5"/></g>
<g id="n30_393"><circle cx="415.4" cy="618.1" r="5"/></g>
<g id="n29_362"><circle cx="382" cy="597.8" r="5"/></g>
<g id="n30_362"><circle cx="382" cy="618.1" r="5"/></g>
<g id="n31_366"><circle cx="386.2" cy="638.4" r="5"/></g>
<g id="n32_366"><circle cx="386.2" cy="658.6" r="5"/></g>
<g id="n33_366"><circle cx="386.2" cy="678.9" r="5"/></g>
<g id="n34_366"><circle cx="386.2" cy="699.2" r="5"/></g>
<g id="n35_366"><circle cx="386.2" cy="719.5" r="5"/></g>
<g id="n36_366"><circle cx="386.2" cy="739.7" r="5"/></g>
<g id="n31_397"><circle cx="419.3" cy="638.4" r="5"/></g>
<g id="n32_397"><circle cx="419.3" cy="658.6" r="5"/></g>
<g id="n37_342"><circle cx="360.9" cy="760" r="5"/></g>
<g id="n38_342"><circle cx="360.9" cy="780.3" r="5"/></g>
<g id="n37_373"><circle cx="393.9" cy="760" r="5"/></g>
<g id="n38_373"><circle cx="393.9" cy="780.3" r="5"/></g>
<g id="n39_338"><circle cx="356.6" cy="800.5" r="5"/></g>
<g id="n40_330"><circle cx="348.5" cy="820.8" r="5"/></g>
<g id="n39_373"><circle cx="393.9" cy="800.5" r="5"/></g>
<g id="n40_373"><circle cx="393.9" cy="820.8" r="5"/></g>
<g id="n41_377"><circle cx="398.1" cy="841.1" r="5"/></g>
<g id="n42_377"><circle cx="398.1" cy="861.4" r="5"/></g>
<g id="n39_405"><circle cx="427.4" cy="800.5" r="5"/></g>
<g id="n40_405"><circle cx="427.4" cy="820.8" r="5"/></g>
<g id="n41_282"><circle cx="298.1" cy="841.1" r="5"/></g>
<g id="n42_282"><circle cx="298.1" cy="861.4" r="5"/></g>
<g id="n41_314"><circle cx="331.3" cy="841.1" r="5"/></g>
<g id="n42_314"><circle cx="331.3" cy="861.4" r="5"/></g>
<g id="n43_314"><circle cx="331.3" cy="881.6" r="5"/></g>
<g id="n44_314"><circle cx="331.3" cy="901.9" r="5"/></g>
<g id="n45_314"><circle cx="331.3" cy="922.2" r="5"/></g>
<g id="n46_314"><circle cx="331.3" cy="942.4" r="5"/></g>
<g id="n41_345"><circle cx="364.7" cy="841.1" r="5"/></g>
<g id="n42_345"><circle cx="364.7" cy="861.4" r="5"/></g>
<g id="n43_345"><circle cx="364.7" cy="881.6" r="5"/></g>
<g id="n44_345"><circle cx="364.7" cy="901.9" r="5"/></g>
<g id="n43_282"><circle cx="298.1" cy="881.6" r="5"/></g>
<g id="n44_282"><circle cx="298.1" cy="901.9" r="5"/></g>
<g id="n59_283"><circle cx="299.2" cy="1205.9" r="5"/></g>
<g id="n60_283"><circle cx="299.2" cy="1226.2" r="5"/></g>
<g id="n61_283"><circle cx="299.2" cy="1246.5" r="5"/></g>
<g id="n62_283"><circle cx="299.2" cy="1266.8" r="5"/></g>
<g id="n63_283"><circle cx="299.2" cy="1287" r="5"/></g>
<g id="n64_283"><circle cx="299.2" cy="1307.3" r="5"/></g>
<g id="n65_283"><circle cx="299.2" cy="1327.6" r="5"/></g>
<g id="n66_283"><circle cx="299.2" cy="1347.8" r="5"/></g>
<g id="n63_315"><circle cx="332.7" cy="1287" r="5"/></g>
<g id="n64_315"><circle cx="332.7" cy="1307.3" r="5"/></g>
<g id="n65_220"><circle cx="232.7" cy="1327.6" r="5"/></g>
<g id="n66_220"><circle cx="232.7" cy="1347.8" r="5"/></g>
<g id="n67_220"><circle cx="232.7" cy="1368.1" r="5"/></g>
<g id="n68_220"><circle cx="232.7" cy="1388.4" r="5"/></g>
<g id="n67_299"><circle cx="315.5" cy="1368.1" r="5"/></g>
<g id="n68_307"><circle cx="324.5" cy="1388.4" r="5"/></g>
<g id="n69_315"><circle cx="332.7" cy="1408.6" r="5"/></g>
<g id="n70_315"><circle cx="332.7" cy="1428.9" r="5"/></g>
<g id="n69_220"><circle cx="232.7" cy="1408.6" r="5"/></g>
<g id="n70_220"><circle cx="232.7" cy="1428.9" r="5"/></g>
<g id="n71_220"><circle cx="232.7" cy="1449.2" r="5"/></g>
<g id="n72_220"><circle cx="232.7" cy="1469.5" r="5"/></g>
<g id="n69_283"><circle cx="299.2" cy="1408.6" r="5"/></g>
<g id="n70_283"><circle cx="299.2" cy="1428.9" r="5"/></g>
<g id="n71_283"><circle cx="299.2" cy="1449.2" r="5"/></g>
<g id="n72_283"><circle cx="299.2" cy="1469.5" r="5"/></g>
<g id="n73_283"><circle cx="299.2" cy="1489.7" r="5"/></g>
<g id="n74_283"><circle cx="299.2" cy="1510" r="5"/></g>
<g id="n75_283"><circle cx="299.2" cy="1530.3" r="5"/></g>
<g id="n76_283"><circle cx="299.2" cy="1550.5" r="5"/></g>
<g id="n77_283"><circle cx="299.2" cy="1570.8" r="5"/></g>
<g id="n78_283"><circle cx="299.2" cy="1591.1" r="5"/></g>
<g id="n79_283"><circle cx="299.2" cy="1611.4" r="5"/></g>
<g id="n80_283"><circle cx="299.2" cy="1631.6" r="5"/></g>
<g id="n81_283"><circle cx="299.2" cy="1651.9" r="5"/></g>
<g id="n82_283"><circle cx="299.2" cy="1672.2" r="5"/></g>
<g id="n83_285"><circle cx="300.7" cy="1692.4" r="5"/></g>
<g id="n84_300"><circle cx="316.8" cy="1712.7" r="5"/></g>
<g id="n85_300"><circle cx="316.8" cy="1733" r="5"/></g>
<g id="n86_300"><circle cx="316.8" cy="1753.2" r="5"/></g>
<g id="n79_252"><circle cx="266.1" cy="1611.4" r="5"/></g>
<g id="n80_252"><circle cx="266.1" cy="1631.6" r="5"/></g>
<g id="n81_252"><circle cx="266.1" cy="1651.9" r="5"/></g>
<g id="n82_251"><circle cx="264.8" cy="1672.2" r="5"/></g>
<g id="n83_251"><circle cx="264.8" cy="1692.4" r="5"/></g>
<g id="n84_248"><circle cx="262.2" cy="1712.7" r="5"/></g>
<g id="n79_315"><circle cx="332.7" cy="1611.4" r="5"/></g>
<g id="n80_315"><circle cx="332.7" cy="1631.6" r="5"/></g>
<g id="n81_315"><circle cx="332.7" cy="1651.9" r="5"/></g>
<g id="n82_315"><circle cx="332.7" cy="1672.2" r="5"/></g>
<g id="n85_217"><circle cx="228.9" cy="1733" r="5"/></g>
<g id="n86_217"><circle cx="228.9" cy="1753.2" r="5"/></g>
<g id="n85_248"><circle cx="262.2" cy="1733" r="5"/></g>
<g id="n86_248"><circle cx="262.2" cy="1753.2" r="5"/></g>
<g id="n87_244"><circle cx="258" cy="1773.5" r="5"/></g>
<g id="n88_244"><circle cx="258" cy="1793.8" r="5"/></g>
<g id="n89_244"><circle cx="258" cy="1814.1" r="5"/></g>
<g id="n90_244"><circle cx="258" cy="1834.3" r="5"/></g>
<g id="n91_244"><circle cx="258" cy="1854.6" r="5"/></g>
<g id="n92_244"><circle cx="258" cy="1874.9" r="5"/></g>
<g id="n93_244"><circle cx="258" cy="1895.1" r="5"/></g>
<g id="n94_244"><circle cx="258" cy="1915.4" r="5"/></g>
<g id="n95_244"><circle cx="258" cy="1935.7" r="5"/></g>
<g id="n96_244"><circle cx="258" cy="1955.9" r="5"/></g>
<g id="n97_244"><circle cx="258" cy="1976.2" r="5"/></g>
<g id="n98_244"><circle cx="258" cy="1996.5" r="5"/></g>
<g id="n99_244"><circle cx="258" cy="2016.8" r="5"/></g>
<g id="n100_244"><circle cx="258" cy="2037" r="5"/></g>
<g id="n101_244"><circle cx="258" cy="2057.3" r="5"/></g>
<g id="n102_244"><circle cx="258" cy="2077.6" r="5"/></g>
<g id="n103_244"><circle cx="258" cy="2097.8" r="5"/></g>
<g id="n104_244"><circle cx="258" cy="2118.1" r="5"/></g>
<g id="n105_244"><circle cx="258" cy="2138.4" r="5"/></g>
<g id="n106_244"><circle cx="258" cy="2158.6" r="5"/></g>
<g id="n93_213"><circle cx="224.6" cy="1895.1" r="5"/></g>
<g id="n94_213"><circle cx="224.6" cy="1915.4" r="5"/></g>
<g id="n95_213"><circle cx="224.6" cy="1935.7" r="5"/></g>
<g id="n96_213"><circle cx="224.6" cy="1955.9" r="5"/></g>
<g id="n99_213"><circle cx="224.6" cy="2016.8" r="5"/></g>
<g id="n100_213"><circle cx="224.6" cy="2037" r="5"/></g>
<g id="n101_276"><circle cx="291.5" cy="2057.3" r="5"/></g>
<g id="n102_276"><circle cx="291.5" cy="2077.6" r="5"/></g>
<g id="n103_276"><circle cx="291.5" cy="2097.8" r="5"/></g>
<g id="n104_276"><circle cx="291.5" cy="2118.1" r="5"/></g>
<g id="n105_276"><circle cx="291.5" cy="2138.4" r="5"/></g>
<g id="n106_276"><circle cx="291.5" cy="2158.6" r="5"/></g>
<g id="n107_276"><circle cx="291.5" cy="2178.9" r="5"/></g>
<g id="n108_276"><circle cx="291.5" cy="2199.2" r="5"/></g>
<g id="n109_276"><circle cx="291.5" cy="2219.5" r="5"/></g>
<g id="n110_276"><circle cx="291.5" cy="2239.7" r="5"/></g>
<g id="n111_276"><circle cx="291.5" cy="2260" r="5"/></g>
<g id="n112_276"><circle cx="291.5" cy="2280.3" r="5"/></g>
<g id="n103_213"><circle cx="224.6" cy="2097.8" r="5"/></g>
<g id="n104_213"><circle cx="224.6" cy="2118.1" r="5"/></g>
<g id="n105_213"><circle cx="224.6" cy="2138.4" r="5"/></g>
<g id="n106_213"><circle cx="224.6" cy="2158.6" r="5"/></g>
<g id="n107_213"><circle cx="224.6" cy="2178.9" r="5"/></g>
<g id="n108_213"><circle cx="224.6" cy="2199.2" r="5"/></g>
<g id="n109_181"><circle cx="191.2" cy="2219.5" r="5"/></g>
<g id="n110_181"><circle cx="191.2" cy="2239.7" r="5"/></g>
<g id="n105_307"><circle cx="324.5" cy="2138.4" r="5"/></g>
<g id="n106_307"><circle cx="324.5" cy="2158.6" r="5"/></g>
<g id="n107_307"><circle cx="324.5" cy="2178.9" r="5"/></g>
<g id="n108_307"><circle cx="324.5" cy="2199.2" r="5"/></g>
<g id="n109_309"><circle cx="326.6" cy="2219.5" r="5"/></g>
<g id="n110_317"><circle cx="335.1" cy="2239.7" r="5"/></g>
<g id="n111_321"><circle cx="339" cy="2260" r="5"/></g>
<g id="n112_322"><circle cx="340.4" cy="2280.3" r="5"/></g>
<g id="n113_322"><circle cx="340.4" cy="2300.5" r="5"/></g>
<g id="n114_322"><circle cx="340.4" cy="2320.8" r="5"/></g>
<g id="n107_339"><circle cx="358" cy="2178.9" r="5"/></g>
<g id="n108_339"><circle cx="358" cy="2199.2" r="5"/></g>
<g id="n107_244"><circle cx="258" cy="2178.9" r="5"/></g>
<g id="n108_244"><circle cx="258" cy="2199.2" r="5"/></g>
<g id="n109_244"><circle cx="258" cy="2219.5" r="5"/></g>
<g id="n110_244"><circle cx="258" cy="2239.7" r="5"/></g>
<g id="n111_244"><circle cx="258" cy="2260" r="5"/></g>
<g id="n112_244"><circle cx="258" cy="2280.3" r="5"/></g>
<g id="n109_213"><circle cx="224.6" cy="2219.5" r="5"/></g>
<g id="n110_213"><circle cx="224.6" cy="2239.7" r="5"/></g>
<g id="n111_213"><circle cx="224.6" cy="2260" r="5"/></g>
<g id="n112_213"><circle cx="224.6" cy="2280.3" r="5"/></g>
<g id="n113_228"><circle cx="240.8" cy="2300.5" r="5"/></g>
<g id="n114_228"><circle cx="240.8" cy="2320.8" r="5"/></g>
<g id="n113_260"><circle cx="274.3" cy="2300.5" r="5"/></g>
<g id="n114_260"><circle cx="274.3" cy="2320.8" r="5"/></g>
<g id="n115_260"><circle cx="274.3" cy="2341.1" r="5"/></g>
<g id="n116_260"><circle cx="274.3" cy="2361.4" r="5"/></g>
<g id="n117_260"><circle cx="274.3" cy="2381.6" r="5"/></g>
<g id="n118_260"><circle cx="274.3" cy="2401.9" r="5"/></g>
<g id="n119_260"><circle cx="274.3" cy="2422.2" r="5"/></g>
<g id="n120_260"><circle cx="274.3" cy="2442.4" r="5"/></g>
<g id="n121_260"><circle cx="274.3" cy="2462.7" r="5"/></g>
<g id="n122_260"><circle cx="274.3" cy="2483" r="5"/></g>
<g id="n113_291"><circle cx="307.3" cy="2300.5" r="5"/></g>
<g id="n114_291"><circle cx="307.3" cy="2320.8" r="5"/></g>
<g id="n115_291"><circle cx="307.3" cy="2341.1" r="5"/></g>
<g id="n116_291"><circle cx="307.3" cy="2361.4" r="5"/></g>
<g id="n117_291"><circle cx="307.3" cy="2381.6" r="5"/></g>
<g id="n118_291"><circle cx="307.3" cy="2401.9" r="5"/></g>
<g id="n119_291"><circle cx="307.3" cy="2422.2" r="5"/></g>
<g id="n120_291"><circle cx="307.3" cy="2442.4" r="5"/></g>
<g id="n115_322"><circle cx="340.4" cy="2341.1" r="5"/></g>
<g id="n116_322"><circle cx="340.4" cy="2361.4" r="5"/></g>
<g id="n117_322"><circle cx="340.4" cy="2381.6" r="5"/></g>
<g id="n118_322"><circle cx="340.4" cy="2401.9" r="5"/></g>
<g id="n117_354"><circle cx="373.9" cy="2381.6" r="5"/></g>
<g id="n118_354"><circle cx="373.9" cy="2401.9" r="5"/></g>
<g id="n119_338"><circle cx="356.6" cy="2422.2" r="5"/></g>
<g id="n120_338"><circle cx="356.6" cy="2442.4" r="5"/></g>
<g id="n119_369"><circle cx="390" cy="2422.2" r="5"/></g>
<g id="n120_369"><circle cx="390" cy="2442.4" r="5"/></g>
<g id="n121_369"><circle cx="390" cy="2462.7" r="5"/></g>
<g id="n122_369"><circle cx="390" cy="2483" r="5"/></g>
<g id="n85_374"><circle cx="395.3" cy="1733" r="5"/></g>
<g id="n86_401"><circle cx="423.2" cy="1753.2" r="5"/></g>
<g id="n87_386"><circle cx="407.3" cy="1773.5" r="5"/></g>
<g id="n88_386"><circle cx="407.3" cy="1793.8" r="5"/></g>
<g id="n87_417"><circle cx="440.7" cy="1773.5" r="5"/></g>
<g id="n88_417"><circle cx="440.7" cy="1793.8" r="5"/></g>
<g id="n89_434"><circle cx="458" cy="1814.1" r="5"/></g>
<g id="n90_434"><circle cx="458" cy="1834.3" r="5"/></g>
<g id="n91_434"><circle cx="458" cy="1854.6" r="5"/></g>
<g id="n92_434"><circle cx="458" cy="1874.9" r="5"/></g>
<g id="n93_434"><circle cx="458" cy="1895.1" r="5"/></g>
<g id="n94_434"><circle cx="458" cy="1915.4" r="5"/></g>
<g id="n95_434"><circle cx="458" cy="1935.7" r="5"/></g>
<g id="n96_434"><circle cx="458" cy="1955.9" r="5"/></g>
<g id="n97_434"><circle cx="458" cy="1976.2" r="5"/></g>
<g id="n98_449"><circle cx="474.2" cy="1996.5" r="5"/></g>
<g id="n99_454"><circle cx="479.1" cy="2016.8" r="5"/></g>
<g id="n100_461"><circle cx="487.2" cy="2037" r="5"/></g>
<g id="n101_465"><circle cx="491.4" cy="2057.3" r="5"/></g>
<g id="n102_465"><circle cx="491.4" cy="2077.6" r="5"/></g>
<g id="n103_465"><circle cx="491.4" cy="2097.8" r="5"/></g>
<g id="n104_465"><circle cx="491.4" cy="2118.1" r="5"/></g>
<g id="n105_465"><circle cx="491.4" cy="2138.4" r="5"/></g>
<g id="n106_465"><circle cx="491.4" cy="2158.6" r="5"/></g>
<g id="n87_449"><circle cx="474.2" cy="1773.5" r="5"/></g>
<g id="n88_449"><circle cx="474.2" cy="1793.8" r="5"/></g>
<g id="n89_371"><circle cx="391.5" cy="1814.1" r="5"/></g>
<g id="n90_371"><circle cx="391.5" cy="1834.3" r="5"/></g>
<g id="n91_371"><circle cx="391.5" cy="1854.6" r="5"/></g>
<g id="n92_371"><circle cx="391.5" cy="1874.9" r="5"/></g>
<g id="n93_371"><circle cx="391.5" cy="1895.1" r="5"/></g>
<g id="n94_371"><circle cx="391.5" cy="1915.4" r="5"/></g>
<g id="n95_371"><circle cx="391.5" cy="1935.7" r="5"/></g>
<g id="n96_371"><circle cx="391.5" cy="1955.9" r="5"/></g>
<g id="n97_371"><circle cx="391.5" cy="1976.2" r="5"/></g>
<g id="n98_371"><circle cx="391.5" cy="1996.5" r="5"/></g>
<g id="n99_371"><circle cx="391.5" cy="2016.8" r="5"/></g>
<g id="n100_371"><circle cx="391.5" cy="2037" r="5"/></g>
<g id="n101_371"><circle cx="391.5" cy="2057.3" r="5"/></g>
<g id="n102_371"><circle cx="391.5" cy="2077.6" r="5"/></g>
<g id="n103_371"><circle cx="391.5" cy="2097.8" r="5"/></g>
<g id="n104_371"><circle cx="391.5" cy="2118.1" r="5"/></g>
<g id="n105_371"><circle cx="391.5" cy="2138.4" r="5"/></g>
<g id="n106_371"><circle cx="391.5" cy="2158.6" r="5"/></g>
<g id="n107_371"><circle cx="391.5" cy="2178.9" r="5"/></g>
<g id="n108_371"><circle cx="391.5" cy="2199.2" r="5"/></g>
<g id="n109_371"><circle cx="391.5" cy="2219.5" r="5"/></g>
<g id="n110_371"><circle cx="391.5" cy="2239.7" r="5"/></g>
<g id="n111_371"><circle cx="391.5" cy="2260" r="5"/></g>
<g id="n112_371"><circle cx="391.5" cy="2280.3" r="5"/></g>
<g id="n89_402"><circle cx="424.9" cy="1814.1" r="5"/></g>
<g id="n90_402"><circle cx="424.9" cy="1834.3" r="5"/></g>
<g id="n93_402"><circle cx="424.9" cy="1895.1" r="5"/></g>
<g id="n94_402"><circle cx="424.9" cy="1915.4" r="5"/></g>
<g id="n95_402"><circle cx="424.9" cy="1935.7" r="5"/></g>
<g id="n96_402"><circle cx="424.9" cy="1955.9" r="5"/></g>
<g id="n97_402"><circle cx="424.9" cy="1976.2" r="5"/></g>
<g id="n98_402"><circle cx="424.9" cy="1996.5" r="5"/></g>
<g id="n99_402"><circle cx="424.9" cy="2016.8" r="5"/></g>
<g id="n100_402"><circle cx="424.9" cy="2037" r="5"/></g>
<g id="n101_402"><circle cx="424.9" cy="2057.3" r="5"/></g>
<g id="n102_402"><circle cx="424.9" cy="2077.6" r="5"/></g>
<g id="n103_402"><circle cx="424.9" cy="2097.8" r="5"/></g>
<g id="n104_402"><circle cx="424.9" cy="2118.1" r="5"/></g>
<g id="n95_339"><circle cx="358" cy="1935.7" r="5"/></g>
<g id="n96_339"><circle cx="358" cy="1955.9" r="5"/></g>
<g id="n97_339"><circle cx="358" cy="1976.2" r="5"/></g>
<g id="n98_339"><circle cx="358" cy="1996.5" r="5"/></g>
<g id="n99_339"><circle cx="358" cy="2016.8" r="5"/></g>
<g id="n100_339"><circle cx="358" cy="2037" r="5"/></g>
<g id="n101_339"><circle cx="358" cy="2057.3" r="5"/></g>
<g id="n102_339"><circle cx="358" cy="2077.6" r="5"/></g>
<g id="n103_339"><circle cx="358" cy="2097.8" r="5"/></g>
<g id="n104_339"><circle cx="358" cy="2118.1" r="5"/></g>
<g id="n105_339"><circle cx="358" cy="2138.4" r="5"/></g>
<g id="n106_339"><circle cx="358" cy="2158.6" r="5"/></g>
<g id="n101_434"><circle cx="458" cy="2057.3" r="5"/></g>
<g id="n102_434"><circle cx="458" cy="2077.6" r="5"/></g>
<g id="n103_434"><circle cx="458" cy="2097.8" r="5"/></g>
<g id="n104_434"><circle cx="458" cy="2118.1" r="5"/></g>
<g id="n105_434"><circle cx="458" cy="2138.4" r="5"/></g>
<g id="n106_434"><circle cx="458" cy="2158.6" r="5"/></g>
<g id="n107_419"><circle cx="442.2" cy="2178.9" r="5"/></g>
<g id="n108_419"><circle cx="442.2" cy="2199.2" r="5"/></g>
<g id="n109_419"><circle cx="442.2" cy="2219.5" r="5"/></g>
<g id="n110_419"><circle cx="442.2" cy="2239.7" r="5"/></g>
<g id="n107_450"><circle cx="475.2" cy="2178.9" r="5"/></g>
<g id="n108_450"><circle cx="475.2" cy="2199.2" r="5"/></g>
<g id="n105_497"><circle cx="524.6" cy="2138.4" r="5"/></g>
<g id="n106_497"><circle cx="524.6" cy="2158.6" r="5"/></g>
<g id="n107_482"><circle cx="508.7" cy="2178.9" r="5"/></g>
<g id="n108_482"><circle cx="508.7" cy="2199.2" r="5"/></g>
<g id="n107_513"><circle cx="542.1" cy="2178.9" r="5"/></g>
<g id="n108_513"><circle cx="542.1" cy="2199.2" r="5"/></g>
<g id="n109_513"><circle cx="542.1" cy="2219.5" r="5"/></g>
<g id="n110_513"><circle cx="542.1" cy="2239.7" r="5"/></g>
<g id="n87_276"><circle cx="291.5" cy="1773.5" r="5"/></g>
<g id="n88_276"><circle cx="291.5" cy="1793.8" r="5"/></g>
<g id="n89_276"><circle cx="291.5" cy="1814.1" r="5"/></g>
<g id="n90_276"><circle cx="291.5" cy="1834.3" r="5"/></g>
<g id="n87_307"><circle cx="324.5" cy="1773.5" r="5"/></g>
<g id="n88_307"><circle cx="324.5" cy="1793.8" r="5"/></g>
<g id="n89_307"><circle cx="324.5" cy="1814.1" r="5"/></g>
<g id="n90_307"><circle cx="324.5" cy="1834.3" r="5"/></g>
<g id="n91_307"><circle cx="324.5" cy="1854.6" r="5"/></g>
<g id="n92_307"><circle cx="324.5" cy="1874.9" r="5"/></g>
<g id="n93_307"><circle cx="324.5" cy="1895.1" r="5"/></g>
<g id="n94_307"><circle cx="324.5" cy="1915.4" r="5"/></g>
<g id="n95_307"><circle cx="324.5" cy="1935.7" r="5"/></g>
<g id="n96_307"><circle cx="324.5" cy="1955.9" r="5"/></g>
<g id="n97_307"><circle cx="324.5" cy="1976.2" r="5"/></g>
<g id="n98_307"><circle cx="324.5" cy="1996.5" r="5"/></g>
<g id="n91_276"><circle cx="291.5" cy="1854.6" r="5"/></g>
<g id="n92_276"><circle cx="291.5" cy="1874.9" r="5"/></g>
<g id="n93_276"><circle cx="291.5" cy="1895.1" r="5"/></g>
<g id="n94_276"><circle cx="291.5" cy="1915.4" r="5"/></g>
<g id="n95_276"><circle cx="291.5" cy="1935.7" r="5"/></g>
<g id="n96_276"><circle cx="291.5" cy="1955.9" r="5"/></g>
</g>
</svg>
